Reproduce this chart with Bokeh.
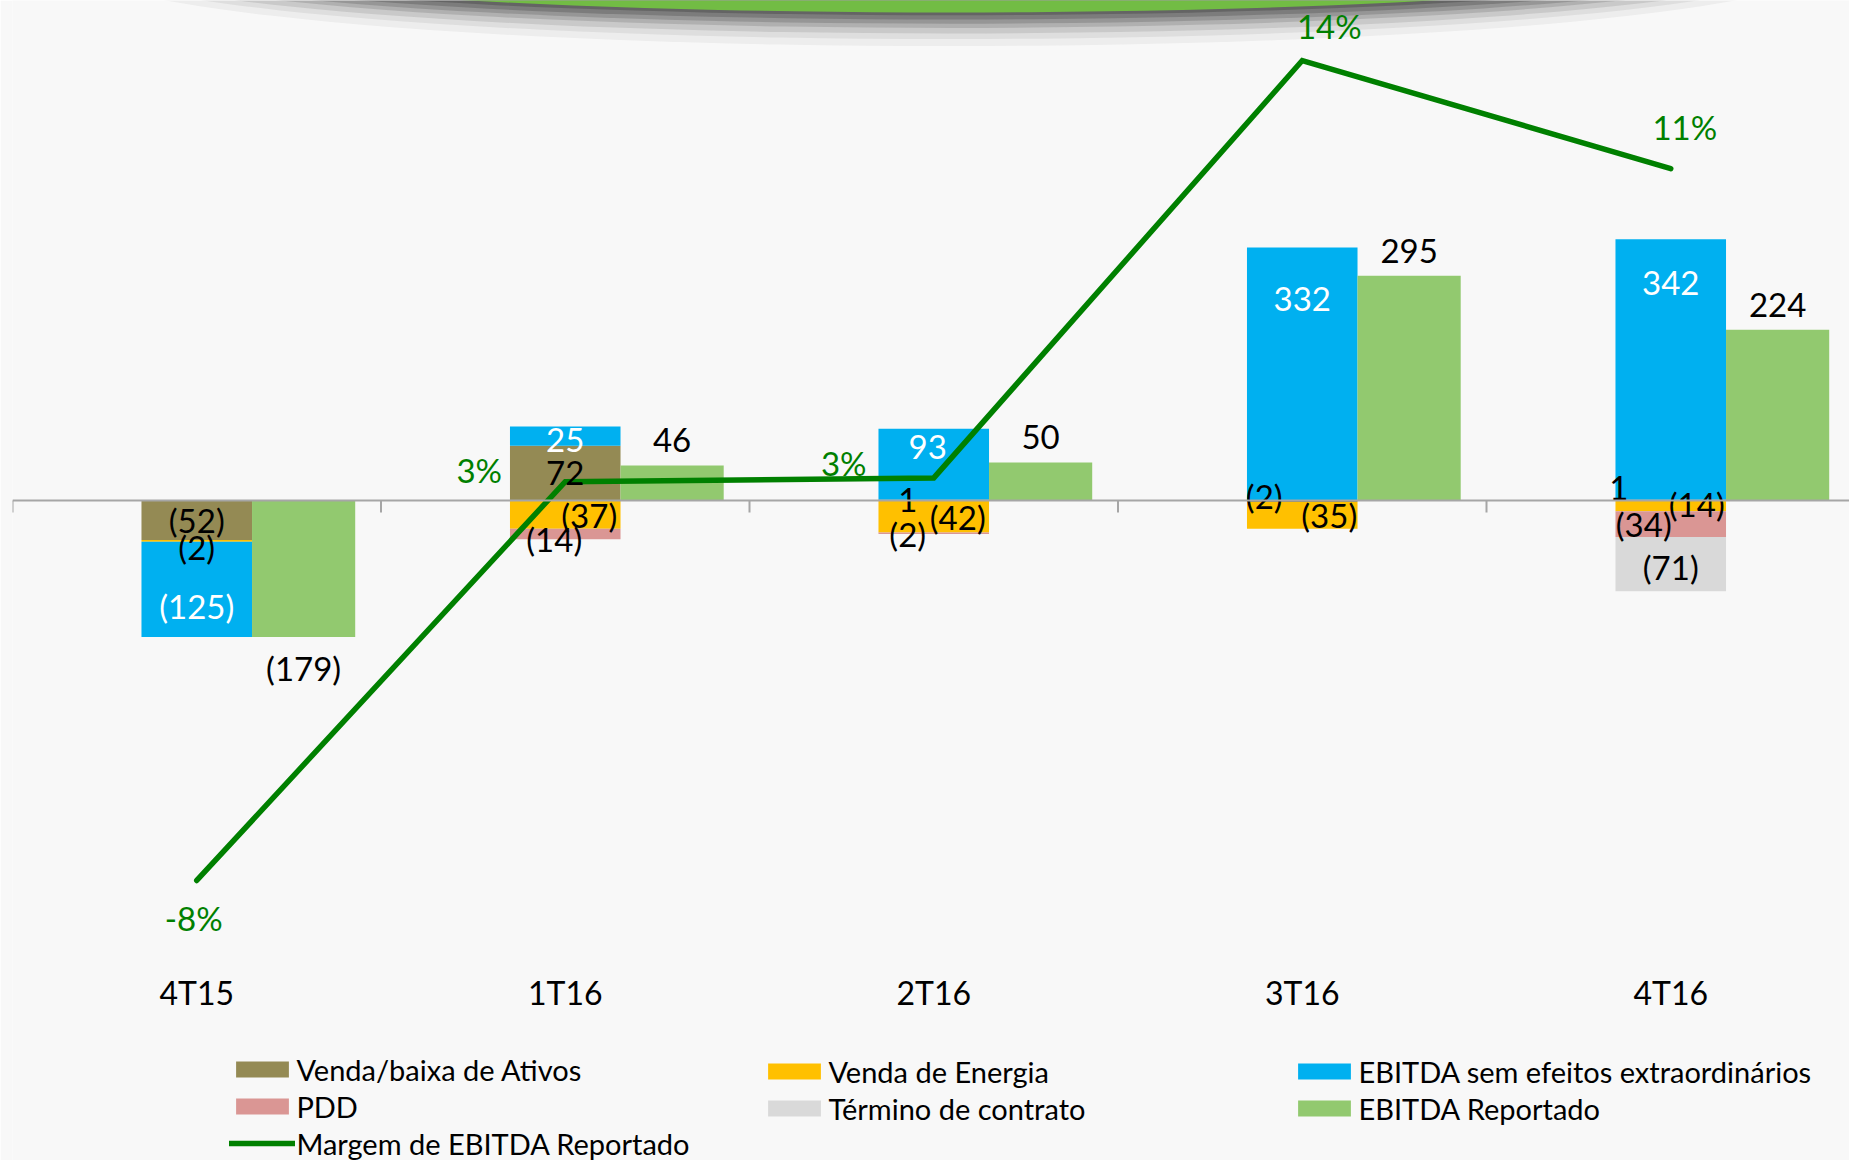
import numpy as np
from bokeh.plotting import figure
from bokeh.models import Range1d, Span, Legend, LegendItem, ColumnDataSource
from bokeh.core.properties import value
from bokeh.embed import file_html
from bokeh.resources import INLINE

# ---------------- data ----------------
categories = ["4T15", "1T16", "2T16", "3T16", "4T16"]
venda_ativos = [-52, 72, 1, -2, 1]
venda_energia = [-2, -37, -42, -35, -14]
ebitda_sem_efeitos = [-125, 25, 93, 332, 342]
pdd = [0, -14, -2, 0, -34]
termino_contrato = [0, 0, 0, 0, -71]
ebitda_reportado = [-179, 46, 50, 295, 224]
margem_ebitda = [-8.0, 2.7, 2.8, 14.0, 11.1]

stack_names = ["Venda/baixa de Ativos", "Venda de Energia",
               "EBITDA sem efeitos extraordinários", "PDD", "Término de contrato"]
stack_values = [venda_ativos, venda_energia, ebitda_sem_efeitos, pdd, termino_contrato]
reportado_name = "EBITDA Reportado"
margem_name = "Margem de EBITDA Reportado"

# ---------------- styles / layout ----------------
stack_colors = ["#948A54", "#FFC000", "#00B0F0", "#DA9694", "#D9D9D9"]
stack_text_colors = ["black", "black", "white", "black", "black"]
green_bar = "#92C96F"
line_green = "#008000"
bg = "#f8f8f8"
FONT = "Lato"

W, H = 1849, 1160
FRAME_LEFT = 12
frame_h = H
frame_w = W - FRAME_LEFT
CAT_PX = 368.5
PX_PER_UNIT = 0.762
ZERO_PX = 500
PX_PER_PCT = 37.27
PCT_ZERO_PX = 581.8
CAT_LABEL_PX = 992

STACK_W = 0.30
GREEN_W = 0.28
GREEN_OFF = 0.29

# label nudges in screen px (dx, dy downwards): (series, category)
STACK_LABEL_NUDGE = {
    (1, 0): (0, 6), (2, 0): (0, 17),
    (2, 1): (0, 4), (1, 1): (24, 0), (3, 1): (-11, 5),
    (0, 2): (-26, 0), (2, 2): (-6, -17), (1, 2): (24, 0), (3, 2): (-26, 1),
    (0, 3): (-38, -5), (2, 3): (0, -75), (1, 3): (27, 0),
    (0, 4): (-52, -12), (2, 4): (0, -86), (1, 4): (26, -2), (3, 4): (-27, 0), (4, 4): (0, 3),
}
PCT_LABEL_NUDGE = [(-3, 38), (-86, -12), (-90, -15), (27, -35), (14, -42)]

p = figure(width=W, height=H,
           x_range=Range1d(0, frame_w / CAT_PX),
           y_range=Range1d(-(frame_h - ZERO_PX) / PX_PER_UNIT, ZERO_PX / PX_PER_UNIT),
           output_backend="svg", toolbar_location=None,
           min_border_left=FRAME_LEFT, min_border_right=0, min_border_top=0,
           min_border_bottom=0,
           background_fill_color=bg, border_fill_color=bg,
           outline_line_color=None, x_axis_location=None, y_axis_location=None)
p.extra_y_ranges = {"pct": Range1d(-(frame_h - PCT_ZERO_PX) / PX_PER_PCT, PCT_ZERO_PX / PX_PER_PCT)}
p.xgrid.visible = False
p.ygrid.visible = False

# decorative header shape (green ellipse with drop shadow) at the very top
hx = (950 - FRAME_LEFT) / CAT_PX
hy = (ZERO_PX + 47.5) / PX_PER_UNIT
for d, a in [(24, 0.05), (19, 0.08), (15, 0.12), (11, 0.16), (8, 0.2), (5, 0.25), (2, 0.3)]:
    p.ellipse(x=hx, y=hy - (d * 0.4) / PX_PER_UNIT, width=1640 + 5 * d, height=119 + 2 * d,
              width_units="screen", height_units="screen",
              fill_color="#303030", fill_alpha=a, line_color=None)
p.ellipse(x=hx, y=hy, width=1600, height=119, width_units="screen", height_units="screen",
          fill_color="#72BC44", line_color=None)

x_center = np.arange(len(categories)) + 0.5

# stacked bars (positives and negatives stacked separately)
pos_base = np.zeros(len(categories))
neg_base = np.zeros(len(categories))
stack_renderers = []
lx, ly, ltxt, lcol, ldx, ldy = [], [], [], [], [], []


def fmt(v):
    return f"({abs(v):.0f})" if v < 0 else f"{v:.0f}"


for s, (vals, col) in enumerate(zip(stack_values, stack_colors)):
    v = np.array(vals, dtype=float)
    bottom = np.where(v >= 0, pos_base, neg_base)
    top = bottom + v
    pos_base = np.where(v >= 0, top, pos_base)
    neg_base = np.where(v < 0, top, neg_base)
    r = p.vbar(x=x_center, bottom=bottom, top=top, width=STACK_W,
               fill_color=col, line_color=None)
    stack_renderers.append(r)
    for i in range(len(categories)):
        if v[i] != 0:
            dx, dy = STACK_LABEL_NUDGE.get((s, i), (0, 0))
            lx.append(x_center[i]); ly.append((bottom[i] + top[i]) / 2)
            ltxt.append(fmt(v[i])); lcol.append(stack_text_colors[s])
            ldx.append(dx); ldy.append(dy)

green_r = p.vbar(x=x_center + GREEN_OFF, bottom=0, top=ebitda_reportado, width=GREEN_W,
                 fill_color=green_bar, line_color=None)
for i, v in enumerate(ebitda_reportado):
    lx.append(x_center[i] + GREEN_OFF); ly.append(v); ltxt.append(fmt(v))
    lcol.append("black"); ldx.append(0); ldy.append(-25 if v >= 0 else 31)

# zero axis line with category boundary ticks
p.add_layout(Span(location=0, dimension="width", line_color="#A6A6A6", line_width=2))
bounds = np.arange(len(categories))
p.segment(x0=bounds, y0=0, x1=bounds, y1=-12 / PX_PER_UNIT, line_color="#A6A6A6", line_width=2)

line_r = p.line(x=x_center, y=margem_ebitda, y_range_name="pct", line_color=line_green,
                line_width=5.5, line_cap="round", line_join="miter")

lab_src = ColumnDataSource(dict(x=lx, y=ly, text=ltxt, color=lcol, dx=ldx, dy=ldy))
p.text(x="x", y="y", text="text", x_offset="dx", y_offset="dy", source=lab_src,
       text_color="color", text_align="center", text_baseline="middle",
       text_font=value(FONT), text_font_size="33px")

pct_src = ColumnDataSource(dict(
    x=list(x_center), y=margem_ebitda,
    text=[f"{round(m):.0f}%" for m in margem_ebitda],
    dx=[n[0] for n in PCT_LABEL_NUDGE], dy=[n[1] for n in PCT_LABEL_NUDGE]))
p.text(x="x", y="y", text="text", x_offset="dx", y_offset="dy", source=pct_src,
       y_range_name="pct", text_color=line_green, text_align="center",
       text_baseline="middle", text_font=value(FONT), text_font_size="33px")

# category labels (low position, as in the original axis)
cat_src = ColumnDataSource(dict(x=list(x_center),
                                y=[(ZERO_PX - CAT_LABEL_PX) / PX_PER_UNIT] * len(categories),
                                text=categories))
p.text(x="x", y="y", text="text", source=cat_src, text_color="black", text_align="center",
       text_baseline="middle", text_font=value(FONT), text_font_size="32px")

# legends: three columns
ITEM_H = 33
SPACING = 2
ROW1_CENTER = 1074  # px from top
GLYPH_W = 66        # area swatches are drawn inset by 10% on each side
GLYPH_H = 20


def make_legend(items, swatch_left_px):
    n = len(items)
    height = n * ITEM_H + (n - 1) * SPACING
    top = ROW1_CENTER - ITEM_H / 2
    vy = frame_h - (top + height)
    x0 = swatch_left_px - 0.1 * GLYPH_W - FRAME_LEFT
    return Legend(items=items, location=(x0, vy), orientation="vertical",
                  glyph_width=GLYPH_W, glyph_height=GLYPH_H, label_height=ITEM_H,
                  spacing=SPACING, label_standoff=1, padding=0, margin=0,
                  border_line_color=None, background_fill_alpha=0, label_text_font=FONT,
                  label_text_font_size="29px", label_text_color="black")


leg1 = make_legend([LegendItem(label=stack_names[0], renderers=[stack_renderers[0]]),
                    LegendItem(label=stack_names[3], renderers=[stack_renderers[3]]),
                    LegendItem(label=margem_name, renderers=[line_r])], 236)
leg2 = make_legend([LegendItem(label=stack_names[1], renderers=[stack_renderers[1]]),
                    LegendItem(label=stack_names[4], renderers=[stack_renderers[4]])], 768)
leg3 = make_legend([LegendItem(label=stack_names[2], renderers=[stack_renderers[2]]),
                    LegendItem(label=reportado_name, renderers=[green_r])], 1298)
for lg in (leg1, leg2, leg3):
    p.add_layout(lg)

open("out.html", "w").write(file_html(p, INLINE))
